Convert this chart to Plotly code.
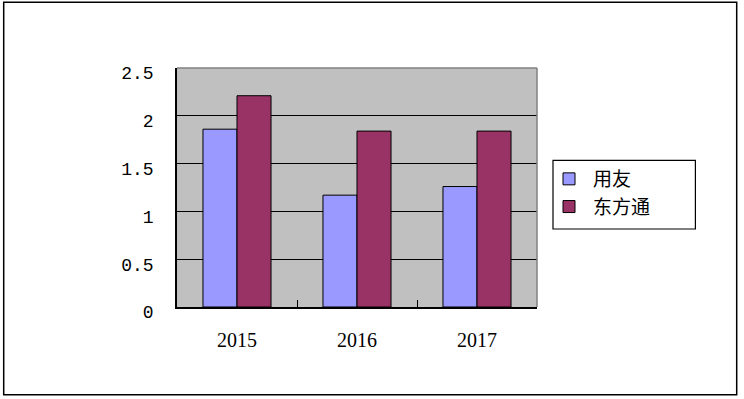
import plotly.graph_objects as go

years = ["2015", "2016", "2017"]
yonyou = [1.86, 1.17, 1.26]
tongtech = [2.21, 1.84, 1.84]
series_names = ["用友", "东方通"]
y_ticks = [0, 0.5, 1, 1.5, 2, 2.5]
y_tick_labels = ["0", "0.5", "1", "1.5", "2", "2.5"]

W, H = 744, 399
L, R, T, B = 177.3, 537.3, 68.3, 307.3
pw, ph = R - L, B - T


def px(x):
    return (x - L) / pw


def py(y):
    return (B - y) / ph


fig = go.Figure()
fig.add_trace(go.Bar(x=years, y=yonyou, name=series_names[0], legendgroup="a",
                     marker=dict(color="#9999FF", line=dict(color="black", width=1))))
fig.add_trace(go.Bar(x=years, y=tongtech, name=series_names[1], legendgroup="b",
                     marker=dict(color="#993366", line=dict(color="black", width=1))))

shapes = [
    # outer chart border
    dict(type="rect", xref="paper", yref="paper", x0=px(4), x1=px(737), y0=py(395), y1=py(2.5),
         line=dict(color="black", width=1.5), layer="below"),
    # plot area top/right border
    dict(type="line", xref="paper", yref="paper", x0=0, x1=1, y0=1, y1=1,
         line=dict(color="#808080", width=1.5)),
    dict(type="line", xref="paper", yref="paper", x0=1, x1=1, y0=0, y1=1,
         line=dict(color="#808080", width=1.5)),
    # legend box
    dict(type="rect", xref="paper", yref="paper", x0=px(553.3), x1=px(695.7), y0=py(229.3), y1=py(160.7),
         line=dict(color="black", width=1.2)),
]

fig.update_layout(
    width=W, height=H,
    margin=dict(l=L, r=W - R, t=T, b=H - B, pad=0, autoexpand=False),
    paper_bgcolor="white", plot_bgcolor="#C0C0C0",
    barmode="group", bargap=0.433, bargroupgap=0,
    showlegend=True,
    legend=dict(xref="container", yref="container", x=545 / W, y=1 - 160 / H,
                xanchor="left", yanchor="top", bgcolor="rgba(0,0,0,0)", borderwidth=0,
                font=dict(family="Noto Sans CJK SC", size=19, color="black"),
                itemwidth=38, tracegroupgap=0),
    shapes=shapes,
    xaxis=dict(showline=True, linecolor="black", linewidth=1.5, ticks="inside", tickson="boundaries",
               ticklen=7, tickcolor="black", tickwidth=1, showgrid=False,
               tickfont=dict(family="Liberation Serif", size=20, color="black"),
               ticklabelstandoff=14),
    yaxis=dict(range=[0, 2.5], tickvals=y_ticks, ticktext=y_tick_labels, showline=True,
               linecolor="black", linewidth=1.5, ticks="inside", ticklen=7, tickcolor="black",
               showgrid=True, gridcolor="black", gridwidth=1, zeroline=False,
               tickfont=dict(family="Liberation Mono", size=18, color="black"),
               ticklabelstandoff=18, ticklabelshift=5),
)

fig.write_html("out.html", config={"displayModeBar": False},
               post_script="document.body.style.margin='0';document.body.style.overflow='hidden';")
